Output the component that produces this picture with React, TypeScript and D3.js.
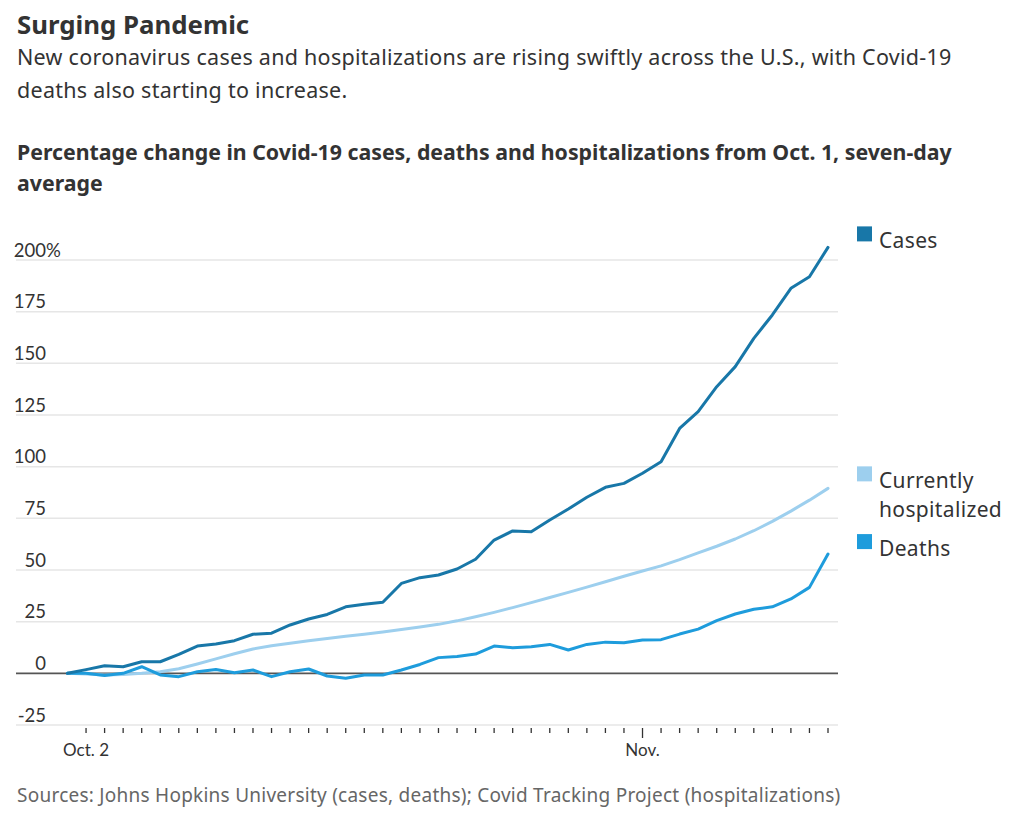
import React, { useEffect } from 'react';
import * as d3 from 'd3';

// percentage change from Oct. 1, seven-day average, one value per day Oct 1 .. Nov 11
const startDate = new Date(2020, 9, 1);
const cases = [
  0, 1.8, 3.7, 3.2, 5.6, 5.6, 9.2, 13.2, 14.2, 15.8, 18.9, 19.4, 23.4, 26.3,
  28.5, 32.2, 33.4, 34.4, 43.5, 46.3, 47.6, 50.5, 55.2, 64.5, 68.9, 68.5, 74.2,
  79.5, 85.2, 90, 91.9, 96.8, 102.4, 118.5, 126.6, 138.7, 148.4, 162.1, 173.4,
  186.3, 191.9, 206.1,
];
const hospitalized = [
  0, -0.3, -0.8, -0.6, 0, 0.8, 2.2, 4.5, 7, 9.5, 11.8, 13.3, 14.6, 15.8, 16.9,
  17.9, 18.9, 20, 21.2, 22.4, 23.7, 25.4, 27.4, 29.5, 31.8, 34.2, 36.7, 39.2,
  41.7, 44.3, 47, 49.5, 52, 55, 58.3, 61.5, 65, 69, 73.5, 78.5, 83.8, 89.5,
];
const deaths = [
  0, 0, -1.1, 0, 3.2, -0.8, -1.6, 0.8, 1.9, 0.3, 1.6, -1.6, 0.8, 2.1, -1.3,
  -2.4, -0.8, -0.8, 1.6, 4.3, 7.6, 8.2, 9.3, 13.2, 12.4, 12.9, 14, 11.3, 14,
  15.1, 14.8, 16.1, 16.3, 19, 21.4, 25.5, 28.7, 31, 32.2, 36, 41.6, 57.7,
];
const yTicks = [-25, 0, 25, 50, 75, 100, 125, 150, 175, 200];

const series = [
  { name: 'Cases', lines: ['Cases'], values: cases, color: '#1877a8', dy: -6 },
  { name: 'Currently hospitalized', lines: ['Currently', 'hospitalized'], values: hospitalized, color: '#9dcfee', dy: -7 },
  { name: 'Deaths', lines: ['Deaths'], values: deaths, color: '#1e9cdc', dy: -5 },
];

const FONT = '"Noto Sans", "Open Sans", sans-serif';
const AXIS_FONT = 'Lato, sans-serif';

export default function App() {
  useEffect(() => {
    document.body.style.margin = '0';
  }, []);

  const width = 1020;
  const height = 826;
  const dates = cases.map((_, i) => d3.timeDay.offset(startDate, i));
  const lastDate = dates[dates.length - 1];

  const x = d3.scaleTime().domain([startDate, lastDate]).range([67.5, 828]);
  const y = d3.scaleLinear().domain([-25, 200]).range([725, 260]);
  const gridLeft = 16;
  const gridRight = 838;

  const line = d3
    .line<number>()
    .x((_, i) => x(dates[i]))
    .y((d) => y(d));

  const tickDays = d3.timeDay.range(d3.timeDay.offset(startDate, 1), d3.timeDay.offset(lastDate, 1));
  const nov1 = new Date(2020, 10, 1);

  return (
    <svg width={width} height={height} style={{ display: 'block', fontFamily: FONT }}>
      <text x={17} y={34} fontSize={25.8} fontWeight={700} fill="#333">
        Surging Pandemic
      </text>
      <text x={17} y={65} fontSize={21.5} letterSpacing={0.27} fill="#333">
        New coronavirus cases and hospitalizations are rising swiftly across the U.S., with Covid-19
      </text>
      <text x={17} y={98} fontSize={21.5} letterSpacing={0.27} fill="#333">
        deaths also starting to increase.
      </text>
      <text x={17} y={160} fontSize={21.3} fontWeight={700} fill="#333">
        Percentage change in Covid-19 cases, deaths and hospitalizations from Oct. 1, seven-day
      </text>
      <text x={17} y={191} fontSize={21.3} fontWeight={700} fill="#333">
        average
      </text>

      {/* gridlines */}
      {yTicks.map((t) => (
        <g key={t} style={{ fontFamily: AXIS_FONT }}>
          <line
            x1={gridLeft}
            x2={gridRight}
            y1={y(t)}
            y2={y(t)}
            stroke={t === 0 ? '#555' : '#e6e6e6'}
            strokeWidth={t === 0 ? 1.6 : 1.5}
          />
          <text x={46} y={y(t) - 3.5} fontSize={18.5} fill="#333" textAnchor="end">
            {t}
          </text>
          {t === 200 && (
            <text x={46} y={y(t) - 3.5} fontSize={18.5} fill="#333">
              %
            </text>
          )}
        </g>
      ))}

      {/* x ticks */}
      {tickDays.map((d) => {
        const big = d.getTime() === nov1.getTime();
        return (
          <line
            key={d.getTime()}
            x1={x(d)}
            x2={x(d)}
            y1={728}
            y2={big ? 738 : 733}
            stroke="#333"
            strokeWidth={1.3}
          />
        );
      })}
      <text x={x(d3.timeDay.offset(startDate, 1))} y={756} fontSize={17} fill="#333" textAnchor="middle" style={{ fontFamily: AXIS_FONT }}>
        Oct. 2
      </text>
      <text x={x(nov1)} y={756} fontSize={17} fill="#333" textAnchor="middle" style={{ fontFamily: AXIS_FONT }}>
        Nov.
      </text>

      {/* lines */}
      {[series[1], series[2], series[0]].map((s) => (
        <path
          key={s.name}
          d={line(s.values) ?? ''}
          fill="none"
          stroke={s.color}
          strokeWidth={3}
          strokeLinejoin="round"
          strokeLinecap="round"
        />
      ))}

      {/* legend at line ends */}
      {series.map((s) => {
        const base = y(s.values[s.values.length - 1]) + s.dy;
        return (
          <g key={s.name}>
            <rect x={857} y={base - 15} width={15} height={15} fill={s.color} />
            {s.lines.map((l, i) => (
              <text key={l} x={879} y={base + 7 + i * 29} fontSize={21} letterSpacing={0.35} fill="#333">
                {l}
              </text>
            ))}
          </g>
        );
      })}

      <text x={17} y={802} fontSize={19} letterSpacing={0.25} fill="#666">
        Sources: Johns Hopkins University (cases, deaths); Covid Tracking Project (hospitalizations)
      </text>
    </svg>
  );
}
